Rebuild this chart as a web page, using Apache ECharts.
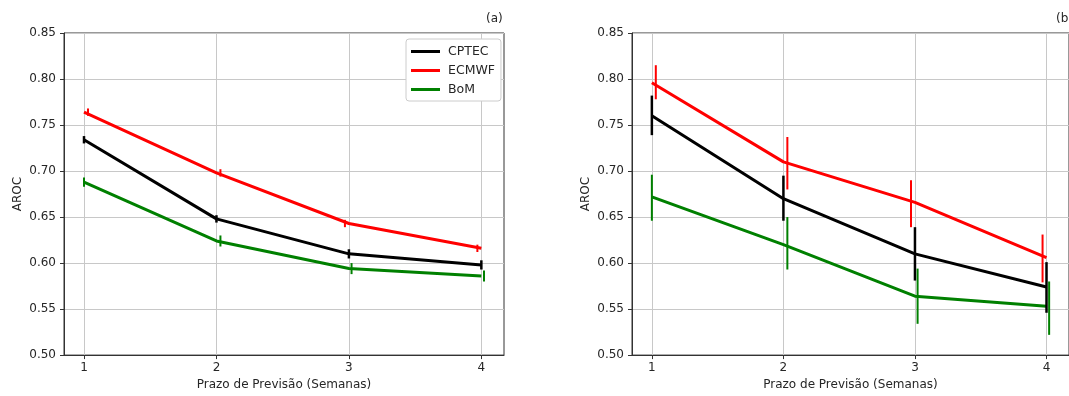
<!DOCTYPE html>
<html>
<head>
<meta charset="utf-8">
<script src="https://cdn.jsdelivr.net/npm/echarts@6/dist/echarts.min.js"></script>
<style>
html,body{margin:0;padding:0;background:#fff;}
#chart{width:1069px;height:396px;}
</style>
</head>
<body>
<div id="chart"></div>
<script>
// ---- data ----
const weeks = [1, 2, 3, 4];
const yTicks = [0.50, 0.55, 0.60, 0.65, 0.70, 0.75, 0.80, 0.85];
const seriesNames = ['CPTEC', 'ECMWF', 'BoM'];

// panel (a)
const cptecA = [0.734, 0.648, 0.610, 0.598];
const ecmwfA = [0.764, 0.698, 0.643, 0.616];
const bomA   = [0.688, 0.624, 0.594, 0.586];
const cptecAErr = [0.004, 0.004, 0.005, 0.005];
const ecmwfAErr = [0.004, 0.004, 0.004, 0.004];
const bomAErr   = [0.005, 0.006, 0.006, 0.006];

// panel (b)
const cptecB = [0.760, 0.670, 0.610, 0.574];
const ecmwfB = [0.796, 0.710, 0.666, 0.606];
const bomB   = [0.672, 0.620, 0.564, 0.553];
const cptecBLow  = [0.739, 0.646, 0.581, 0.546];
const cptecBHigh = [0.782, 0.695, 0.639, 0.601];
const ecmwfBLow  = [0.778, 0.680, 0.639, 0.579];
const ecmwfBHigh = [0.815, 0.737, 0.690, 0.631];
const bomBLow    = [0.646, 0.593, 0.534, 0.522];
const bomBHigh   = [0.696, 0.650, 0.594, 0.580];

// x positions of the error bars (slightly shifted in the original)
const cptecBarX = [1.00, 2.00, 3.00, 4.00];
const ecmwfBarX = [1.03, 2.03, 2.97, 3.97];
const bomBarX   = [1.00, 2.03, 3.02, 4.02];

// ---- build ----
const colors = {CPTEC: '#000000', ECMWF: '#ff0000', BoM: '#008000'};
const FONT = 'DejaVu Sans';
const TXT = '#262626';

function lineSeries(name, ys, gi) {
  return {
    type: 'line', name: name, xAxisIndex: gi, yAxisIndex: gi,
    data: weeks.map((w, i) => [w, ys[i]]),
    symbol: 'none', lineStyle: {color: colors[name], width: 3},
    itemStyle: {color: colors[name]}, z: 3, silent: true, animation: false
  };
}
function errSeries(name, xs, lows, highs, gi, lw) {
  return {
    type: 'custom', name: name + '-err', xAxisIndex: gi, yAxisIndex: gi,
    data: xs.map((x, i) => [x, lows[i], highs[i]]),
    encode: {x: 0, y: [1, 2]}, z: 4, silent: true, animation: false,
    renderItem: function (params, api) {
      const p1 = api.coord([api.value(0), api.value(1)]);
      const p2 = api.coord([api.value(0), api.value(2)]);
      return {type: 'line', shape: {x1: p1[0], y1: p1[1], x2: p2[0], y2: p2[1]},
              style: {stroke: colors[name], lineWidth: lw}};
    }
  };
}
function sym(vals, errs, sign) { return vals.map((v, i) => v + sign * errs[i]); }

function xAxisDef(gi) {
  return {
    type: 'value', gridIndex: gi, min: 0.849, max: 4.171,
    name: 'Prazo de Previsão (Semanas)', nameLocation: 'middle', nameGap: 22,
    nameTextStyle: {fontFamily: FONT, fontSize: 12, color: TXT},
    axisLine: {show: true, onZero: false, lineStyle: {color: '#333', width: 1}},
    axisTick: {show: true, inside: false, length: 4, customValues: weeks, lineStyle: {color: '#333'}},
    axisLabel: {customValues: weeks, fontFamily: FONT, fontSize: 12, color: TXT, margin: 7,
                formatter: v => String(Math.round(v))},
    splitLine: {show: true, lineStyle: {color: '#c8c8c8', width: 1}}
  };
}
function yAxisDef(gi) {
  return {
    type: 'value', gridIndex: gi, min: 0.5, max: 0.85, interval: 0.05,
    name: 'AROC', nameLocation: 'middle', nameGap: 40, nameRotate: 90,
    nameTextStyle: {fontFamily: FONT, fontSize: 12, color: TXT},
    axisLine: {show: true, lineStyle: {color: '#333', width: 1}},
    axisTick: {show: true, inside: false, length: 4, lineStyle: {color: '#333'}},
    axisLabel: {fontFamily: FONT, fontSize: 12, color: TXT, margin: 8,
                formatter: v => v.toFixed(2)},
    splitLine: {show: true, lineStyle: {color: '#c8c8c8', width: 1}}
  };
}

const option = {
  backgroundColor: '#fff',
  animation: false,
  grid: [
    {left: 64, top: 33, width: 440, height: 328, show: true, borderColor: '#333', borderWidth: 1, backgroundColor: 'transparent'},
    {left: 632, top: 33, width: 440, height: 328, show: true, borderColor: '#333', borderWidth: 1, backgroundColor: 'transparent'}
  ],
  xAxis: [xAxisDef(0), xAxisDef(1)],
  yAxis: [yAxisDef(0), yAxisDef(1)],
  legend: {
    data: seriesNames, orient: 'vertical', left: 406, top: 39,
    icon: 'rect', itemWidth: 29, itemHeight: 3, itemGap: 6,
    textStyle: {fontFamily: FONT, fontSize: 12.5, color: TXT, padding: [0, 0, 0, 3]},
    backgroundColor: '#fff', borderColor: '#cccccc', borderWidth: 1, borderRadius: 3,
    padding: [6, 6, 5, 5], selectedMode: false
  },
  graphic: [
    {type: 'text', left: 486, top: 13, style: {text: '(a)', font: '12px "DejaVu Sans"', fill: TXT}},
    {type: 'text', left: 1056, top: 13, style: {text: '(b)', font: '12px "DejaVu Sans"', fill: TXT}}
  ],
  series: [
    lineSeries('CPTEC', cptecA, 0),
    errSeries('CPTEC', cptecBarX, sym(cptecA, cptecAErr, -1), sym(cptecA, cptecAErr, 1), 0, 2.5),
    lineSeries('ECMWF', ecmwfA, 0),
    errSeries('ECMWF', ecmwfBarX, sym(ecmwfA, ecmwfAErr, -1), sym(ecmwfA, ecmwfAErr, 1), 0, 2),
    lineSeries('BoM', bomA, 0),
    errSeries('BoM', bomBarX, sym(bomA, bomAErr, -1), sym(bomA, bomAErr, 1), 0, 2),
    lineSeries('CPTEC', cptecB, 1),
    errSeries('CPTEC', cptecBarX, cptecBLow, cptecBHigh, 1, 2.5),
    lineSeries('ECMWF', ecmwfB, 1),
    errSeries('ECMWF', ecmwfBarX, ecmwfBLow, ecmwfBHigh, 1, 2),
    lineSeries('BoM', bomB, 1),
    errSeries('BoM', bomBarX, bomBLow, bomBHigh, 1, 2)
  ]
};
const chart = echarts.init(document.getElementById('chart'), null, {renderer: 'canvas'});
chart.setOption(option);
</script>
</body>
</html>
